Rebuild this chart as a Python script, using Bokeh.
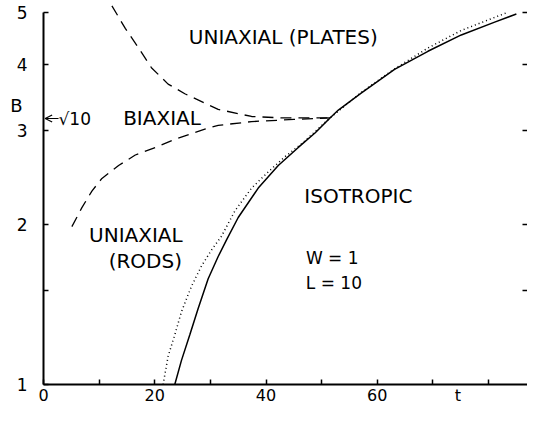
from bokeh.plotting import figure
from bokeh.models import (Range1d, LogAxis, FixedTicker, Label, Arrow, OpenHead,
                          PrintfTickFormatter)
from bokeh.embed import file_html
from bokeh.resources import INLINE

# ---- data ----
upper_t = [12.3, 14.7, 17.1, 19.4, 22.4, 25.4, 29.0, 31.4, 37.4, 43.0, 51.5]
upper_B = [5.15, 4.67, 4.29, 3.94, 3.67, 3.52, 3.38, 3.29, 3.19, 3.17, 3.17]

lower_t = [5.1, 6.9, 8.7, 10.5, 13.5, 16.5, 20.1, 23.6, 29.0, 31.4, 37.4, 45.0, 51.5]
lower_B = [1.98, 2.15, 2.31, 2.44, 2.58, 2.70, 2.79, 2.89, 3.02, 3.07, 3.12, 3.15, 3.17]

solid_t = [23.6, 24.8, 26.3, 27.8, 29.6, 31.4, 32.9, 35.0, 38.6, 42.2, 45.8, 48.8,
           51.5, 53.0, 57.1, 63.1, 69.1, 75.1, 81.1, 85.0]
solid_B = [1.0, 1.11, 1.24, 1.39, 1.58, 1.74, 1.87, 2.06, 2.34, 2.58, 2.79, 2.97,
           3.17, 3.28, 3.53, 3.91, 4.23, 4.54, 4.80, 4.97]

dot_t = [21.5, 22.4, 23.6, 24.8, 26.6, 28.4, 30.2, 32.0, 34.4, 37.4, 40.4, 43.4,
         46.5, 51.5, 57.1, 63.1, 69.1, 75.1, 83.5]
dot_B = [1.0, 1.13, 1.24, 1.37, 1.53, 1.67, 1.79, 1.90, 2.12, 2.34, 2.51, 2.68,
         2.84, 3.17, 3.54, 3.92, 4.29, 4.63, 5.01]

x_tick_marks = [0, 10, 20, 30, 40, 50, 60, 70, 80]
x_label_pos = [0, 20, 40, 60, 74.5]
x_label_txt = ["0", "20", "40", "60", "t"]
y_label_pos = [1, 2, 3, 4, 5]
y_minor = [1.5]
y_right_marks = [1.5, 2, 3, 4, 5]
b_label_pos = 3.35
sqrt10 = 3.1623

region_labels = [
    ("UNIAXIAL (PLATES)", 43.1, 4.50, "20px"),
    ("BIAXIAL", 21.3, 3.17, "20px"),
    ("ISOTROPIC", 56.6, 2.26, "20px"),
    ("UNIAXIAL", 16.6, 1.91, "20px"),
    ("(RODS)", 18.3, 1.71, "20px"),
    ("W = 1", 51.9, 1.73, "17px"),
    ("L = 10", 52.2, 1.555, "17px"),
]

FONT = "DejaVu Sans"

p = figure(width=527, height=407, x_range=Range1d(0, 87), y_range=Range1d(1, 5.27),
           y_axis_type="log", output_backend="svg", toolbar_location=None,
           min_border_left=43, min_border_right=0, min_border_top=0, min_border_bottom=20)
p.outline_line_color = None
p.grid.visible = False
p.background_fill_color = "white"

# curves
p.line(upper_t, upper_B, line_color="black", line_width=1.3, line_dash="11 7")
p.line(lower_t, lower_B, line_color="black", line_width=1.3, line_dash="11 7")
p.line(solid_t, solid_B, line_color="black", line_width=1.5)
p.line(dot_t, dot_B, line_color="black", line_width=1.5, line_dash="1 3")

# x axis: labels on major ticks (no marks), marks as minor ticks
xa = p.xaxis[0]
xa.ticker = FixedTicker(ticks=x_label_pos, minor_ticks=x_tick_marks)
xa.major_label_overrides = dict(zip(x_label_pos, x_label_txt))
xa.major_tick_line_color = None
xa.major_tick_in = 0
xa.major_tick_out = 0
xa.minor_tick_in = 5
xa.minor_tick_out = 0
xa.minor_tick_line_width = 1.5
xa.minor_tick_line_color = "black"
xa.axis_line_width = 2
xa.major_label_standoff = 1
xa.major_label_text_font = FONT
xa.major_label_text_font_size = "16px"
xa.major_label_text_color = "black"

# y axis
ya = p.yaxis[0]
ya.ticker = FixedTicker(ticks=y_label_pos, minor_ticks=y_minor)
ya.formatter = PrintfTickFormatter(format="%d")
ya.bounds = (1, 5)
ya.major_tick_in = 5
ya.major_tick_out = 0
ya.major_tick_line_width = 1.5
ya.minor_tick_in = 5
ya.minor_tick_out = 0
ya.minor_tick_line_width = 1.5
ya.minor_tick_line_color = "black"
ya.axis_line_width = 2
ya.major_label_standoff = 16
ya.major_label_text_font = FONT
ya.major_label_text_font_size = "17px"
ya.major_label_text_color = "black"

# "B" axis label, placed at its height, outside the tick labels
ba = LogAxis(ticker=FixedTicker(ticks=[b_label_pos]), axis_line_color=None,
             major_tick_line_color=None, major_tick_in=0, major_tick_out=0,
             minor_tick_line_color=None, major_label_standoff=-9,
             major_label_overrides={b_label_pos: "B"},
             major_label_text_font=FONT, major_label_text_font_size="18px",
             major_label_text_color="black")
p.add_layout(ba, "left")

# right-side tick marks
ra = LogAxis(ticker=FixedTicker(ticks=[], minor_ticks=y_right_marks), axis_line_color=None,
             major_tick_line_color=None, minor_tick_in=5, minor_tick_out=0,
             minor_tick_line_width=1.5, minor_tick_line_color="black",
             major_label_standoff=0)
p.add_layout(ra, "right")

# labels
for txt, tx, ty, fs in region_labels:
    p.add_layout(Label(x=tx, y=ty, text=txt, text_align="center", text_baseline="middle",
                       text_font=FONT, text_font_size=fs, text_color="black"))

p.add_layout(Label(x=2.7, y=sqrt10, text="√10", text_align="left", text_baseline="middle",
                   text_font=FONT, text_font_size="17px", text_color="black"))
p.add_layout(Arrow(end=OpenHead(size=7, line_width=1.2), x_start=2.7, y_start=sqrt10,
                   x_end=0.3, y_end=sqrt10, line_width=1.2))

open("out.html", "w").write(file_html(p, INLINE))
